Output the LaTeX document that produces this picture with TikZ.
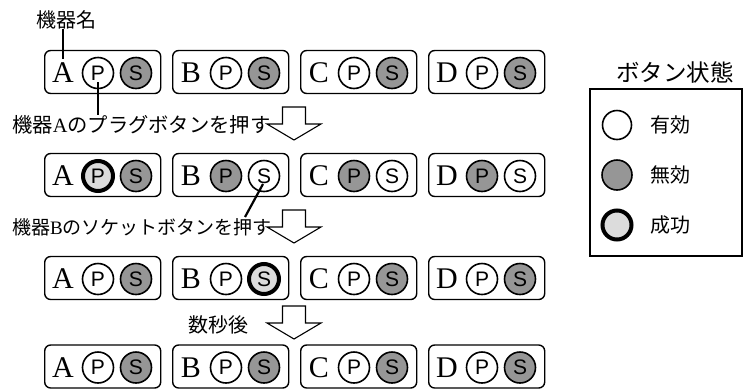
\documentclass[tikz,border=0pt]{standalone}
\usepackage{fontspec}
\newfontfamily\jp{Noto Sans CJK JP}
\newfontfamily\tms{Liberation Serif}
\newfontfamily\ars{Liberation Sans}
\usetikzlibrary{calc}
\definecolor{offgray}{RGB}{150,150,150}
\definecolor{okgray}{RGB}{220,220,220}
\tikzset{
 devbox/.style={draw, rounded corners=6pt, line width=1.4pt, minimum width=116pt, minimum height=43pt, inner sep=0},
 devlet/.style={font=\tms\fontsize{30}{30}\selectfont, inner sep=0},
 btn/.style={circle, draw, minimum size=31pt, inner sep=0, line width=1.6pt, font=\ars\fontsize{21}{21}\selectfont},
 btnon/.style={btn, fill=white},
 btnoff/.style={btn, fill=offgray},
 btnok/.style={btn, fill=okgray, line width=4pt, minimum size=30pt},
 jptext/.style={font=\jp\fontsize{20}{20}\selectfont, inner sep=0},
 conn/.style={line width=2.2pt},
 arrowline/.style={draw, line width=1.1pt, fill=white, line join=miter},
 downarrow/.pic={\path[arrowline] (-11.5,0) -- (11.5,0) -- (11.5,17) -- (27,17) -- (0,33) -- (-27,17) -- (-11.5,17) -- cycle;}
}
\newcommand\devunit[6]{%
 \node[devbox, anchor=west] (#1) at (#2,#3) {};
 \node[devlet] (#1L) at ($(#1.west)+(19,1)$) {#4};
 \node[#5] (#1P) at ($(#1.west)+(54,1)$) {P};
 \node[#6] (#1S) at ($(#1.west)+(92,1)$) {S};
}
\begin{document}
\begin{tikzpicture}[x=1pt,y=-1pt]
\useasboundingbox (0,0) rectangle (744,389);
% row 1
\devunit{r1a}{44}{72}{A}{btnon}{btnoff}
\devunit{r1b}{172}{72}{B}{btnon}{btnoff}
\devunit{r1c}{300}{72}{C}{btnon}{btnoff}
\devunit{r1d}{428}{72}{D}{btnon}{btnoff}
% row 2
\devunit{r2a}{44}{175}{A}{btnok}{btnoff}
\devunit{r2b}{172}{175}{B}{btnoff}{btnon}
\devunit{r2c}{300}{175}{C}{btnoff}{btnon}
\devunit{r2d}{428}{175}{D}{btnoff}{btnon}
% row 3
\devunit{r3a}{44}{278}{A}{btnon}{btnoff}
\devunit{r3b}{172}{278}{B}{btnon}{btnok}
\devunit{r3c}{300}{278}{C}{btnon}{btnoff}
\devunit{r3d}{428}{278}{D}{btnon}{btnoff}
% row 4
\devunit{r4a}{44}{366.5}{A}{btnon}{btnoff}
\devunit{r4b}{172}{366.5}{B}{btnon}{btnoff}
\devunit{r4c}{300}{366.5}{C}{btnon}{btnoff}
\devunit{r4d}{428}{366.5}{D}{btnon}{btnoff}
% texts
\node[jptext] (nm) at (66,20) {機器名};
\node[jptext, font=\jp\fontsize{20.3}{20}\selectfont, anchor=west] (t1) at (12,125) {機器{\tms A}のプラグボタンを押す};
\node[jptext, font=\jp\fontsize{19}{19}\selectfont, anchor=west] (t2) at (12,227) {機器{\tms B}のソケットボタンを押す};
\node[jptext] (t3) at (218,325) {数秒後};
% connectors
\draw[conn] (nm.south -| r1aL) -- ($(r1aL.north)+(0,-4)$);
\draw[conn] ($(r1aP.center)+(0,9)$) -- (r1aP |- t1.north);
\coordinate (c2) at (245,217);
\draw[conn] ($(r2bS.center)+(-1,8)$) -- (c2);
% arrows
\pic at (294,107) {downarrow};
\pic at (294,210) {downarrow};
\pic at (294,306) {downarrow};
% legend
\node[font=\jp\fontsize{23.5}{24}\selectfont, inner sep=0] (lt) at (675,72) {ボタン状態};
\node[draw, line width=1.6pt, minimum width=152pt, minimum height=167pt, anchor=north west, inner sep=0] (lg) at (589,88) {};
\node[btnon, minimum size=29pt] (l1) at (617,125) {};
\node[btnoff, minimum size=30pt] (l2) at (617,175) {};
\node[btnok, minimum size=29pt] (l3) at (617,225) {};
\node[jptext, anchor=west] (l1t) at (650,125) {有効};
\node[jptext, anchor=west] (l2t) at (650,175) {無効};
\node[jptext, anchor=west] (l3t) at (650,225) {成功};
\end{tikzpicture}
\end{document}
